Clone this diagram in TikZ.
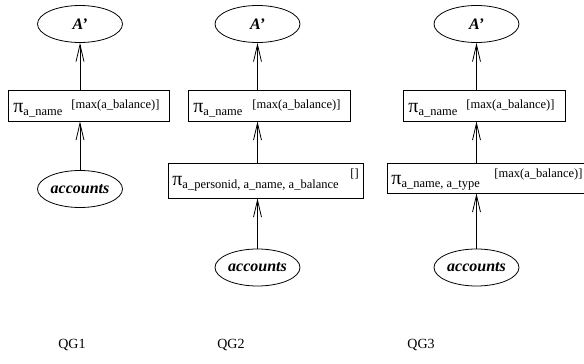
\documentclass[tikz,border=0pt]{standalone}
\usepackage{fontspec}
\setmainfont{Liberation Serif}
\usetikzlibrary{shapes.geometric,arrows.meta}
\newcommand{\pisub}[1]{{\fontsize{20}{20}\selectfont π}\raisebox{-3.5pt}{\fontsize{12.5}{12.5}\selectfont #1}}
\begin{document}
\begin{tikzpicture}[x=1pt,y=-1pt,line width=0.8pt,>={Straight Barb[length=17pt,width=8pt]},
  ell/.style={draw,ellipse,minimum width=85pt,minimum height=37pt,inner sep=0pt,font=\fontsize{16}{16}\selectfont\bfseries\itshape},
  opbox/.style={draw,rectangle,inner sep=0pt},
  txt/.style={anchor=base west,inner sep=0pt},
  sm/.style={txt,font=\fontsize{12.5}{12.5}\selectfont},
  qglabel/.style={font=\fontsize{14}{14}\selectfont}]
\useasboundingbox (0,0) rectangle (584,364);
% QG1
\node[ell] (a1) at (80,24) {A’};
\node[opbox,minimum width=161pt,minimum height=31pt] (p1) at (88.5,105.5) {};
\node[txt] (p1t) at (13,112) {\pisub{a\_name}};
\node[sm] (p1b) at (71,108) {[max(a\_balance)]};
\node[ell] (acc1) at (80,189) {accounts};
\draw[->] (acc1) -- (acc1 |- p1.south);
\draw[->] (a1 |- p1.north) -- (a1);
% QG2
\node[ell] (a2) at (257.5,24) {A’};
\node[opbox,minimum width=162pt,minimum height=31pt] (p2) at (269,105.5) {};
\node[txt] (p2t) at (193,112) {\pisub{a\_name}};
\node[sm] (p2b) at (252,108) {[max(a\_balance)]};
\node[opbox,minimum width=195pt,minimum height=35pt] (q2) at (265.5,180.5) {};
\node[txt] (q2t) at (172,185) {\pisub{a\_personid, a\_name, a\_balance}};
\node[sm] (q2b) at (350,177) {[]};
\node[ell] (acc2) at (257.5,267.5) {accounts};
\draw[->] (acc2) -- (acc2 |- q2.south);
\draw[->] (a2 |- q2.north) -- (a2 |- p2.south);
\draw[->] (a2 |- p2.north) -- (a2);
% QG3
\node[ell] (a3) at (476.5,24) {A’};
\node[opbox,minimum width=162pt,minimum height=31pt] (p3) at (484,105.5) {};
\node[txt] (p3t) at (408,112) {\pisub{a\_name}};
\node[sm] (p3b) at (466,108) {[max(a\_balance)]};
\node[opbox,minimum width=198.5pt,minimum height=30pt] (q3) at (486.25,178) {};
\node[txt] (q3t) at (391,184) {\pisub{a\_name, a\_type}};
\node[sm] (q3b) at (494,177) {[max(a\_balance)]};
\node[ell] (acc3) at (476.5,267.5) {accounts};
\draw[->] (acc3) -- (acc3 |- q3.south);
\draw[->] (a3 |- q3.north) -- (a3 |- p3.south);
\draw[->] (a3 |- p3.north) -- (a3);
% labels
\node[qglabel] (l1) at (72,345) {QG1};
\node[qglabel] (l2) at (231,345) {QG2};
\node[qglabel] (l3) at (421,345) {QG3};
\end{tikzpicture}
\end{document}
